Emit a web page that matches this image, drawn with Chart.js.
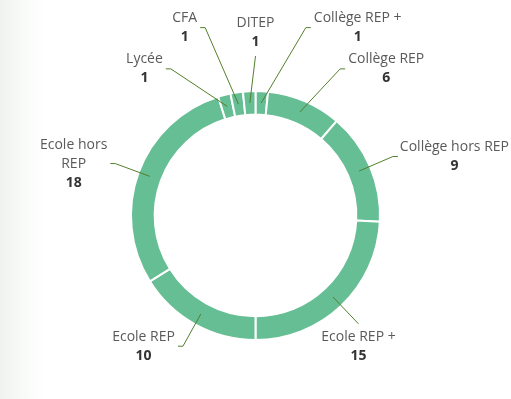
<!DOCTYPE html>
<html lang="fr">
<head>
<meta charset="utf-8">
<title>Répartition</title>
<script src="https://cdn.jsdelivr.net/npm/chart.js@4.4.1/dist/chart.umd.min.js"></script>
<style>
  html, body { margin: 0; padding: 0; }
  body {
    width: 511px;
    height: 399px;
    overflow: hidden;
    background: linear-gradient(to right, #eef3ef 0px, #f8faf8 22px, #ffffff 45px);
  }
  #wrap { position: relative; width: 511px; height: 399px; }
</style>
</head>
<body>
<div id="wrap"><canvas id="pie"></canvas></div>
<script>
// ---------- DATA ----------
const categories = [
  "Collège REP +",
  "Collège REP",
  "Collège hors REP",
  "Ecole REP +",
  "Ecole REP",
  ["Ecole hors", "REP"],
  "Lycée",
  "CFA",
  "DITEP",
];
const counts = [1, 6, 9, 15, 10, 18, 1, 1, 1];

// ---------- STYLE ----------
const SLICE_COLOR = "#66be94";
const LINE_COLOR = "#527f2c";
const NAME_COLOR = "#5a5a5a";
const VALUE_COLOR = "#333333";
const NAME_FONT = '14px "Open Sans"';
const VALUE_FONT = 'bold 14px "Open Sans"';
const LINE_H = 19;
const MIN_SEP = 15 * Math.PI / 180; // min angle between two labels

// spread label angles so neighbours keep some room
function spreadAngles(items) {
  const n = items.length;
  for (let it = 0; it < 400; it++) {
    for (let k = 0; k < n; k++) {
      const a = items[k];
      const b = items[(k + 1) % n];
      let gap = b.t - a.t;
      if (k === n - 1) gap += Math.PI * 2;
      if (gap < MIN_SEP) {
        const d = (MIN_SEP - gap) / 2;
        a.t -= d;
        b.t += d;
      }
    }
  }
}

// ---------- LEADER LINES + LABELS ----------
const leaderLabels = {
  id: "leaderLabels",
  afterDatasetsDraw(chart) {
    const ctx = chart.ctx;
    const arcs = chart.getDatasetMeta(0).data;

    const items = arcs.map((arc, i) => {
      const p = arc.getProps(["x", "y", "startAngle", "endAngle", "innerRadius", "outerRadius"], true);
      let theta = (p.startAngle + p.endAngle) / 2 + Math.PI / 2; // clockwise from top
      theta = (theta + Math.PI * 2) % (Math.PI * 2);
      return { i, p, theta, t: theta };
    });
    items.sort((a, b) => a.t - b.t);
    spreadAngles(items);

    ctx.save();
    items.forEach((item) => {
      const p = item.p;
      const rMid = (p.innerRadius + p.outerRadius) / 2;
      const ax = p.x + rMid * Math.sin(item.theta);
      const ay = p.y - rMid * Math.cos(item.theta);

      const s = Math.sin(item.t);
      const c = Math.cos(item.t);
      let mode = s >= 0 ? "right" : "left";
      if (Math.abs(s) < 0.1 && c > 0) mode = "top";
      if (c < -0.6 && s > 0) mode = "bottom";

      let r = p.outerRadius + 25 + 45 * Math.min(Math.max((c - 0.8) / 0.15, 0), 1);
      if (mode === "top") r = p.outerRadius + 35;

      const ex = p.x + r * s;
      const ey = p.y - r * c;

      // connector
      ctx.strokeStyle = LINE_COLOR;
      ctx.lineWidth = 1;
      ctx.beginPath();
      ctx.moveTo(ax, ay);
      ctx.lineTo(ex, ey);
      let tx = ex;
      if (mode === "right") { tx = ex + 5; ctx.lineTo(tx, ey); }
      if (mode === "left") { tx = ex - 5; ctx.lineTo(tx, ey); }
      ctx.stroke();

      // text block
      const label = categories[item.i];
      const lines = Array.isArray(label) ? label : [label];
      const value = String(counts[item.i]);
      ctx.font = NAME_FONT;
      let w = Math.max(...lines.map((l) => ctx.measureText(l).width));
      ctx.font = VALUE_FONT;
      w = Math.max(w, ctx.measureText(value).width);
      const nLines = lines.length + 1;
      const blockH = nLines * LINE_H;

      let cx, top;
      if (mode === "right") { cx = tx + 3 + w / 2; top = ey - blockH / 2; }
      else if (mode === "left") { cx = tx - 3 - w / 2; top = ey - blockH / 2; }
      else if (mode === "top") { cx = ex; top = ey - 4 - blockH; }
      else { cx = ex; top = ey + 4; }
      cx = Math.min(Math.max(cx, w / 2 + 4), chart.width - w / 2 - 2);

      ctx.textAlign = "center";
      ctx.textBaseline = "middle";
      ctx.font = NAME_FONT;
      ctx.fillStyle = NAME_COLOR;
      lines.forEach((l, k) => ctx.fillText(l, cx, top + LINE_H / 2 + k * LINE_H));
      ctx.font = VALUE_FONT;
      ctx.fillStyle = VALUE_COLOR;
      ctx.fillText(value, cx, top + LINE_H / 2 + lines.length * LINE_H);
    });
    ctx.restore();
  },
};

// ---------- CREATE CHART ----------
const pieCanvas = document.getElementById("pie");
const pieChart = new Chart(pieCanvas.getContext("2d"), {
  type: "doughnut",
  data: {
    labels: categories,
    datasets: [
      {
        data: counts,
        backgroundColor: SLICE_COLOR,
        borderColor: "#ffffff",
        borderWidth: 2,
        hoverOffset: 0,
      },
    ],
  },
  options: {
    responsive: true,
    maintainAspectRatio: false,
    animation: false,
    events: [],
    cutout: "81%",
    layout: {
      padding: { top: 90, bottom: 58, left: 0, right: 0 },
    },
    plugins: {
      legend: { display: false },
      tooltip: { enabled: false },
    },
  },
  plugins: [leaderLabels],
});
</script>
</body>
</html>
